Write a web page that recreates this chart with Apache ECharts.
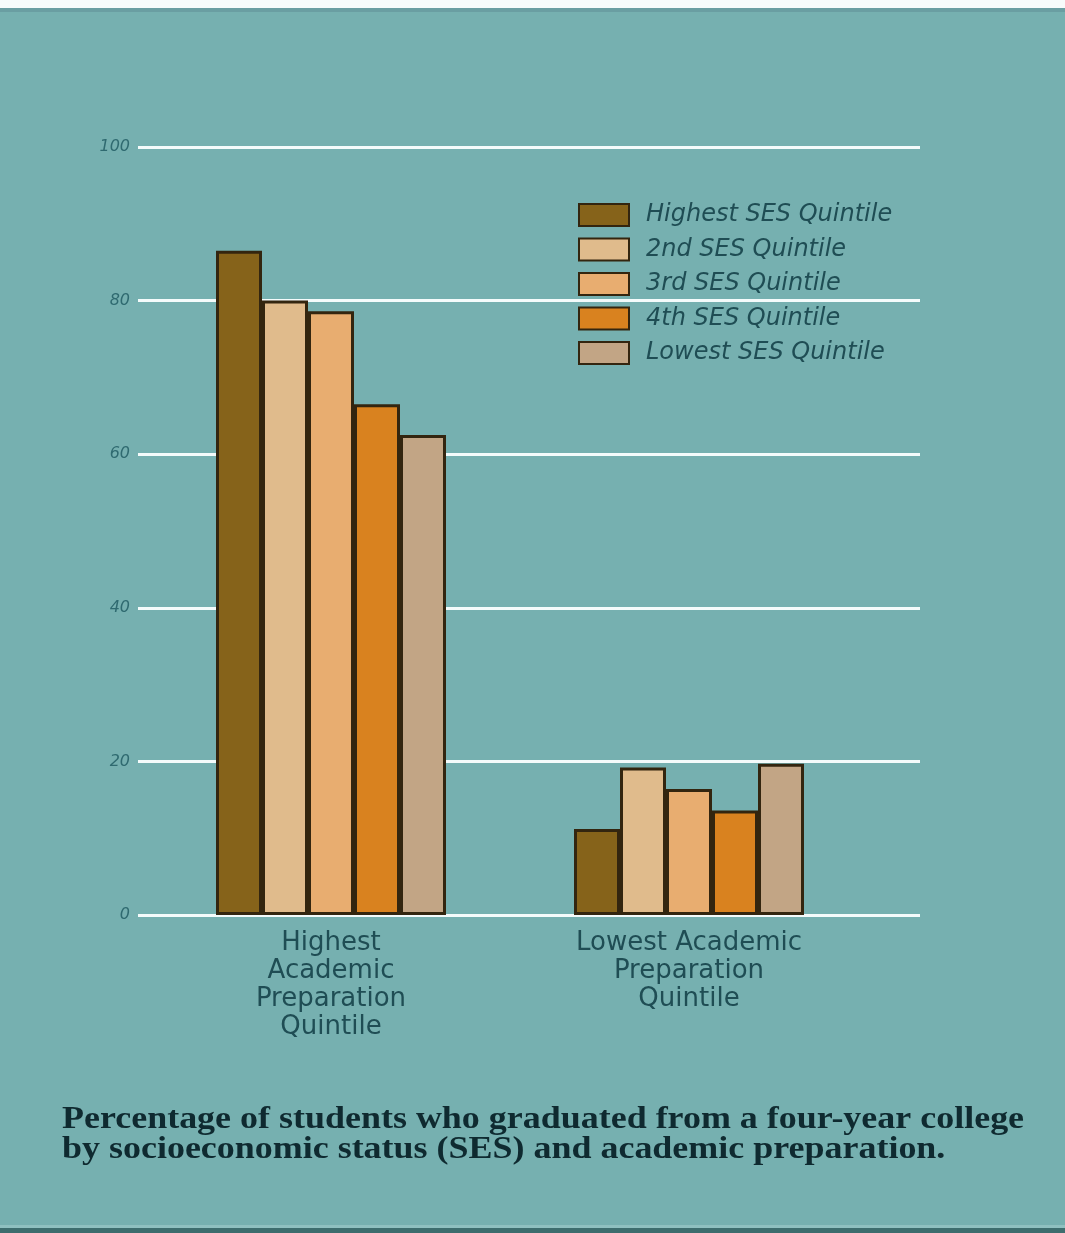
<!DOCTYPE html>
<html>
<head>
<meta charset="utf-8">
<script src="https://cdn.jsdelivr.net/npm/echarts@6/dist/echarts.min.js"></script>
<style>
html,body{margin:0;padding:0;background:#ffffff;}
#chart{width:1065px;height:1233px;}
</style>
</head>
<body>
<div id="chart"></div>
<script>
// ---- data ----
const categories = ['Highest\nAcademic\nPreparation\nQuintile', 'Lowest Academic\nPreparation\nQuintile'];
const seriesNames = ['Highest SES Quintile', '2nd SES Quintile', '3rd SES Quintile', '4th SES Quintile', 'Lowest SES Quintile'];
const highestSES = [86.5, 11.2];
const secondSES  = [80.0, 19.2];
const thirdSES   = [78.6, 16.4];
const fourthSES  = [66.5, 13.6];
const lowestSES  = [62.5, 19.7];
const yTicks = [0, 20, 40, 60, 80, 100];
const titleLines = ['Percentage of students who graduated from a four-year college', 'by socioeconomic status (SES) and academic preparation.'];

const seriesValues = [highestSES, secondSES, thirdSES, fourthSES, lowestSES];
const colors = ['#86631a', '#e0bb8c', '#e8ad70', '#d9821f', '#c2a585'];

const chart = echarts.init(document.getElementById('chart'));
const textColor = '#1f4d54';

const series = seriesNames.map((name, i) => ({
  name: name,
  type: 'bar',
  xAxisIndex: 1,
  yAxisIndex: 1,
  barWidth: 46,
  barGap: '0%',
  data: seriesValues[i],
  itemStyle: { color: colors[i], borderColor: '#33250f', borderWidth: 3 },
  z: 3
}));

chart.setOption({
  backgroundColor: '#76b0b0',
  animation: false,
  legend: {
    data: seriesNames,
    orient: 'vertical',
    icon: 'rect',
    left: 578,
    top: 203,
    padding: 0,
    itemWidth: 50,
    itemHeight: 22,
    itemGap: 10.5,
    textStyle: {
      fontFamily: 'DejaVu Sans',
      fontStyle: 'italic',
      fontSize: 24,
      lineHeight: 22,
      color: textColor,
      padding: [0, 0, 0, 12]
    }
  },
  grid: [
    { left: 138, right: 145, top: 147, bottom: 318 },
    { left: 152, right: 197, top: 147, bottom: 318 }
  ],
  xAxis: [
    { gridIndex: 0, type: 'value', min: 0, max: 1, show: false },
    {
      gridIndex: 1, type: 'category', data: categories,
      axisLine: { show: false }, axisTick: { show: false },
      axisLabel: {
        margin: 14,
        fontFamily: 'DejaVu Sans',
        fontSize: 26,
        lineHeight: 28,
        color: textColor
      }
    }
  ],
  yAxis: [
    {
      gridIndex: 0, type: 'value', min: yTicks[0], max: yTicks[yTicks.length - 1], interval: 20,
      axisLine: { show: false }, axisTick: { show: false },
      axisLabel: {
        margin: 8,
        fontFamily: 'DejaVu Sans',
        fontStyle: 'italic',
        fontSize: 16,
        color: '#2f6a70'
      },
      splitLine: { lineStyle: { color: '#f4fbfb', width: 3 } }
    },
    { gridIndex: 1, type: 'value', min: 0, max: 100, show: false }
  ],
  graphic: [
    { type: 'rect', left: 0, top: 0, shape: { width: 1065, height: 8 }, style: { fill: '#f7fbfb' }, z: 10 },
    { type: 'rect', left: 0, top: 8, shape: { width: 1065, height: 4 }, style: { fill: '#6a9ea2' }, z: 10 },
    { type: 'rect', left: 0, top: 1225, shape: { width: 1065, height: 3 }, style: { fill: '#8fc0c0' }, z: 10 },
    { type: 'rect', left: 0, top: 1228, shape: { width: 1065, height: 5 }, style: { fill: '#3d6d6e' }, z: 10 },
    {
      type: 'text', x: 62, y: 1105, scaleX: 1.16, z: 10,
      style: {
        text: titleLines.join('\n'),
        font: 'bold 31px "Liberation Serif"',
        lineHeight: 30,
        fill: '#0f2a30'
      }
    }
  ],
  series: series
});
</script>
</body>
</html>
